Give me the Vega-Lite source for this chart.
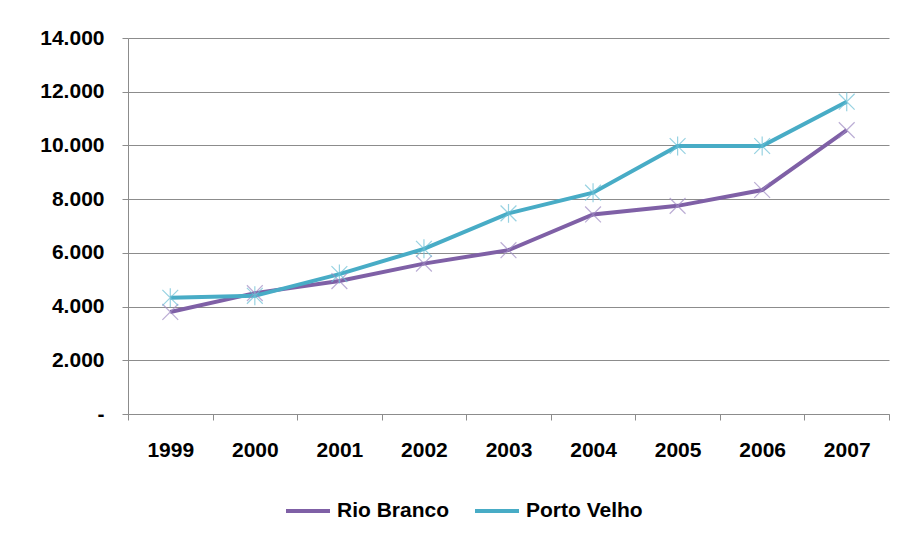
{
  "$schema": "https://vega.github.io/schema/vega-lite/v6.json",
  "width": 761,
  "height": 376,
  "autosize": "none",
  "padding": {"left": 128, "top": 38, "right": 9, "bottom": 120},
  "background": "white",
  "config": {"view": {"stroke": null}, "font": "Liberation Sans"},
  "data": {
    "values": [
      {"year": "1999", "city": "Rio Branco", "value": 3800},
      {"year": "2000", "city": "Rio Branco", "value": 4500},
      {"year": "2001", "city": "Rio Branco", "value": 4950},
      {"year": "2002", "city": "Rio Branco", "value": 5600},
      {"year": "2003", "city": "Rio Branco", "value": 6100},
      {"year": "2004", "city": "Rio Branco", "value": 7430},
      {"year": "2005", "city": "Rio Branco", "value": 7750},
      {"year": "2006", "city": "Rio Branco", "value": 8340},
      {"year": "2007", "city": "Rio Branco", "value": 10570},
      {"year": "1999", "city": "Porto Velho", "value": 4330},
      {"year": "2000", "city": "Porto Velho", "value": 4400},
      {"year": "2001", "city": "Porto Velho", "value": 5210},
      {"year": "2002", "city": "Porto Velho", "value": 6150},
      {"year": "2003", "city": "Porto Velho", "value": 7470},
      {"year": "2004", "city": "Porto Velho", "value": 8240},
      {"year": "2005", "city": "Porto Velho", "value": 9980},
      {"year": "2006", "city": "Porto Velho", "value": 9980},
      {"year": "2007", "city": "Porto Velho", "value": 11630}
    ]
  },
  "encoding": {
    "x": {
      "field": "year",
      "type": "ordinal",
      "scale": {"type": "band", "paddingInner": 0, "paddingOuter": 0},
      "axis": {
        "title": null,
        "labelAngle": 0,
        "tickBand": "extent",
        "grid": false,
        "domainColor": "#8c8c8c",
        "tickColor": "#8c8c8c",
        "tickSize": 6,
        "labelFontSize": 21,
        "labelFontWeight": "bold",
        "labelColor": "#000000",
        "labelPadding": 19
      }
    },
    "y": {
      "field": "value",
      "type": "quantitative",
      "scale": {"domain": [0, 14000], "nice": false},
      "axis": {
        "title": null,
        "values": [0, 2000, 4000, 6000, 8000, 10000, 12000, 14000],
        "labelExpr": "datum.value == 0 ? '-' : replace(format(datum.value, ','), ',', '.')",
        "grid": true,
        "gridColor": "#8c8c8c",
        "domainColor": "#8c8c8c",
        "tickColor": "#8c8c8c",
        "tickSize": 6,
        "labelFontSize": 21,
        "labelFontWeight": "bold",
        "labelColor": "#000000",
        "labelPadding": 18
      }
    }
  },
  "layer": [
    {
      "mark": {"type": "line", "strokeWidth": 4},
      "encoding": {
        "color": {
          "field": "city",
          "type": "nominal",
          "scale": {"domain": ["Rio Branco", "Porto Velho"], "range": ["#7f60a6", "#48acc6"]},
          "legend": {
            "title": null,
            "orient": "none",
            "legendX": 156,
            "legendY": 449,
            "direction": "horizontal",
            "symbolType": "stroke",
            "symbolStrokeWidth": 4,
            "symbolSize": 1936,
            "labelFontSize": 21,
            "labelFontWeight": "bold",
            "labelColor": "#000000",
            "labelOffset": 5,
            "columnPadding": 17
          }
        }
      }
    },
    {
      "transform": [{"filter": "datum.city == 'Rio Branco'"}],
      "mark": {"type": "point", "filled": false, "strokeWidth": 1.2, "size": 250, "stroke": "#a08cc4", "shape": "M-1,-1L1,1M-1,1L1,-1"}
    },
    {
      "transform": [{"filter": "datum.city == 'Porto Velho'"}],
      "mark": {"type": "point", "filled": false, "strokeWidth": 1.2, "size": 250, "stroke": "#6cc0d6", "shape": "M-1,-1L1,1M-1,1L1,-1M0,-1.2L0,1.2"}
    }
  ]
}
